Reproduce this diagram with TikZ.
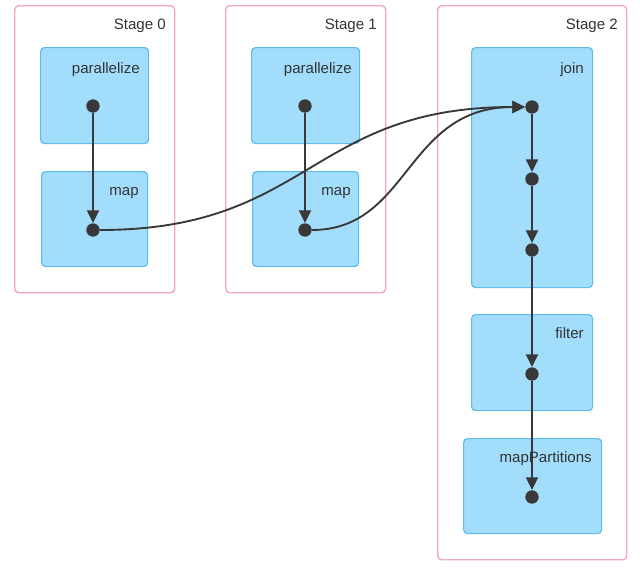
\documentclass[tikz,border=0pt]{standalone}
\usepackage{fontspec}
\setmainfont{Liberation Sans}
\usetikzlibrary{arrows.meta}
\definecolor{stageborder}{HTML}{F3A9BA}
\definecolor{opfill}{HTML}{A2DDFC}
\definecolor{opborder}{HTML}{5CBDE9}
\definecolor{edgecol}{HTML}{383838}
\definecolor{txtcol}{HTML}{333333}
\begin{document}
\begin{tikzpicture}[x=0.75pt,y=-0.75pt,
  stagebox/.style={draw=stageborder, line width=1.1pt, rounded corners=3pt, fill=white, anchor=north west, inner sep=0pt},
  opbox/.style={draw=opborder, line width=0.9pt, rounded corners=3pt, fill=opfill, anchor=north west, inner sep=0pt},
  lbl/.style={text=txtcol, font=\fontsize{11.3}{13}\selectfont, anchor=base east, inner sep=0pt},
  dot/.style={circle, fill=edgecol, inner sep=0pt, minimum size=10pt},
  edge/.style={draw=edgecol, line width=1.4pt, -{Triangle[length=9.5pt,width=9pt]}}]
\useasboundingbox (0,0) rectangle (640,568);
% stages
\node[stagebox, minimum width=160*0.75pt, minimum height=287*0.75pt] (s0) at (14,5) {};
\node[stagebox, minimum width=160*0.75pt, minimum height=287*0.75pt] (s1) at (225,5) {};
\node[stagebox, minimum width=189*0.75pt, minimum height=554*0.75pt] (s2) at (437,5) {};
\node[lbl] (s0l) at (166,29) {Stage 0};
\node[lbl] (s1l) at (377,29) {Stage 1};
\node[lbl] (s2l) at (618,29) {Stage 2};
% operation boxes
\node[opbox, minimum width=108*0.75pt, minimum height=96*0.75pt] (p0) at (40,47) {};
\node[opbox, minimum width=106*0.75pt, minimum height=95*0.75pt] (m0) at (41,171) {};
\node[opbox, minimum width=108*0.75pt, minimum height=96*0.75pt] (p1) at (251,47) {};
\node[opbox, minimum width=106*0.75pt, minimum height=95*0.75pt] (m1) at (252,171) {};
\node[opbox, minimum width=121*0.75pt, minimum height=240*0.75pt] (jn) at (471,47) {};
\node[opbox, minimum width=121*0.75pt, minimum height=96*0.75pt] (fl) at (471,314) {};
\node[opbox, minimum width=138*0.75pt, minimum height=95*0.75pt] (mp) at (463,438) {};
\node[lbl] (p0l) at (140,73) {parallelize};
\node[lbl] (m0l) at (139,195) {map};
\node[lbl] (p1l) at (352,73) {parallelize};
\node[lbl] (m1l) at (351,195) {map};
\node[lbl] (jnl) at (584,73) {join};
\node[lbl] (fll) at (584,338) {filter};
\node[lbl] (mpl) at (592,462) {mapPartitions};
% dots
\node[dot] (d0a) at (93,106) {};
\node[dot] (d0b) at (93,230) {};
\node[dot] (d1a) at (305,106) {};
\node[dot] (d1b) at (305,230) {};
\node[dot] (dj1) at (532,107) {};
\node[dot] (dj2) at (532,179) {};
\node[dot] (dj3) at (532,250) {};
\node[dot] (df) at (532,374) {};
\node[dot] (dm) at (532,497) {};
% edges
\draw[edge] (d0a) -- (d0b);
\draw[edge] (d1a) -- (d1b);
\draw[edge] (dj1) -- (dj2);
\draw[edge] (dj2) -- (dj3);
\draw[edge] (dj3) -- (df);
\draw[edge] (df) -- (dm);
\draw[edge] (d0b.east) .. controls (310,230) and (310,107) .. (dj1.west);
\draw[edge] (d1b.east) .. controls (410,230) and (405,107) .. (dj1.west);
\end{tikzpicture}
\end{document}
